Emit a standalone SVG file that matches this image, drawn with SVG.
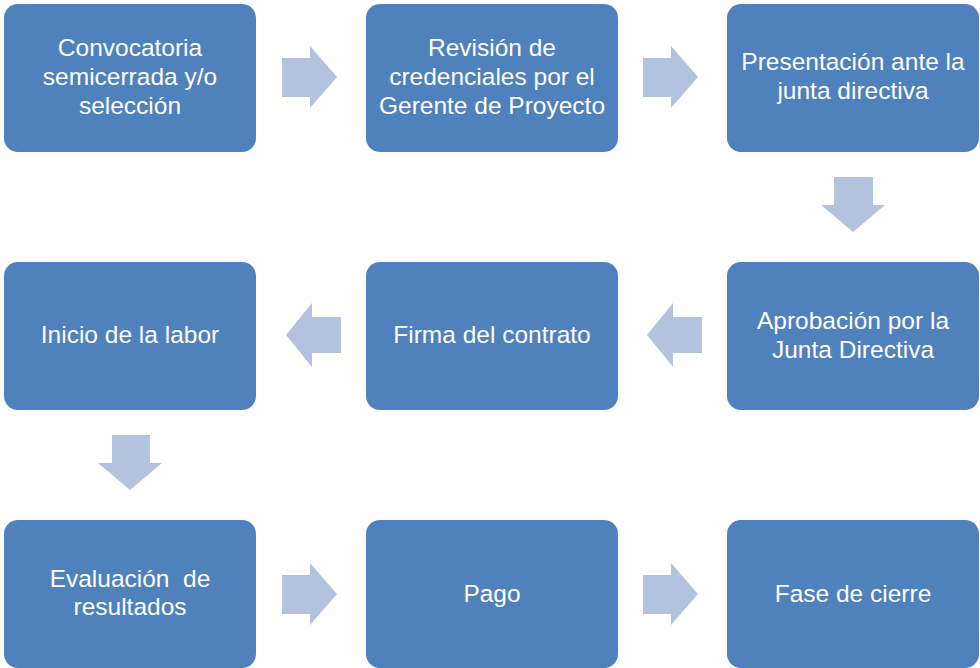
<svg xmlns="http://www.w3.org/2000/svg" width="980" height="668" viewBox="0 0 980 668">
<style>
.box{fill:#4F81BD}
.arr{fill:#B3C3DF}
text{font-family:"Liberation Sans",Arial,sans-serif;font-size:24.5px;fill:#FFFFFF;text-anchor:middle}
</style>
<rect width="980" height="668" fill="#FFFFFF"/>
<g id="connectors">
<polygon class="arr" points="282,58 310,58 310,46 337,77 310,108 310,97 282,97"/>
<polygon class="arr" points="643,58 671,58 671,46 698,77 671,108 671,97 643,97"/>
<polygon class="arr" points="834,177 873,177 873,205 885,205 853,232 821,205 834,205"/>
<polygon class="arr" points="702,317 673,317 673,303 647,335 673,367 673,353 702,353"/>
<polygon class="arr" points="341,317 312,317 312,303 286,335 312,367 312,353 341,353"/>
<polygon class="arr" points="112,435 150,435 150,463 162,463 130,490 98,463 112,463"/>
<polygon class="arr" points="282,575 310,575 310,563 337,594 310,625 310,614 282,614"/>
<polygon class="arr" points="643,575 671,575 671,563 698,594 671,625 671,614 643,614"/>
</g>
<g id="n1"><rect class="box" x="4" y="4" width="252" height="148" rx="14"/>
<text x="130" y="56">Convocatoria</text><text x="130" y="85">semicerrada y/o</text><text x="130" y="114">selección</text></g>
<g id="n2"><rect class="box" x="366" y="4" width="252" height="148" rx="14"/>
<text x="492" y="56">Revisión de</text><text x="492" y="85">credenciales por el</text><text x="492" y="114">Gerente de Proyecto</text></g>
<g id="n3"><rect class="box" x="727" y="4" width="252" height="148" rx="14"/>
<text x="853" y="70">Presentación ante la</text><text x="853" y="99">junta directiva</text></g>
<g id="n4"><rect class="box" x="727" y="262" width="252" height="148" rx="14"/>
<text x="853" y="329">Aprobación por la</text><text x="853" y="358">Junta Directiva</text></g>
<g id="n5"><rect class="box" x="366" y="262" width="252" height="148" rx="14"/>
<text x="492" y="343">Firma del contrato</text></g>
<g id="n6"><rect class="box" x="4" y="262" width="252" height="148" rx="14"/>
<text x="130" y="343">Inicio de la labor</text></g>
<g id="n7"><rect class="box" x="4" y="520" width="252" height="148" rx="14"/>
<text x="130" y="587" xml:space="preserve">Evaluación  de</text><text x="130" y="615">resultados</text></g>
<g id="n8"><rect class="box" x="366" y="520" width="252" height="148" rx="14"/>
<text x="492" y="602">Pago</text></g>
<g id="n9"><rect class="box" x="727" y="520" width="252" height="148" rx="14"/>
<text x="853" y="602">Fase de cierre</text></g>
</svg>
